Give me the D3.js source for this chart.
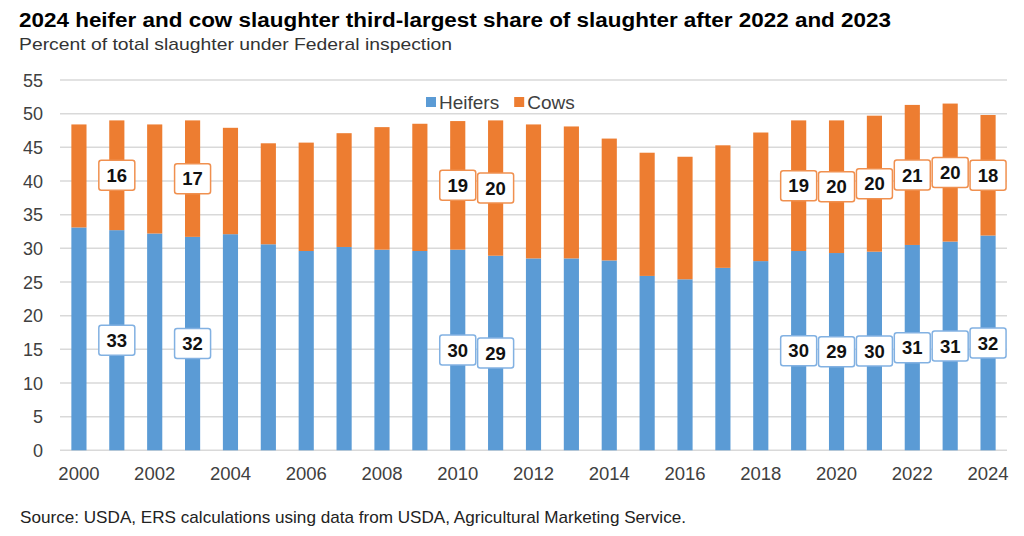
<!DOCTYPE html>
<html><head><meta charset="utf-8">
<script src="https://cdn.jsdelivr.net/npm/d3@7"></script>
<style>body{margin:0;background:#fff}svg{display:block}</style>
</head><body>
<svg id="c" width="1024" height="536"></svg>
<script>
const years = d3.range(2000, 2025);
const heifers = [33.1,32.7,32.2,31.7,32.1,30.6,29.6,30.2,29.8,29.6,29.8,28.9,28.5,28.5,28.2,25.9,25.4,27.1,28.1,29.6,29.3,29.5,30.5,31.0,31.9];
const cows = [15.3,16.3,16.2,17.3,15.8,15.0,16.1,16.9,18.2,18.9,19.1,20.1,19.9,19.6,18.1,18.3,18.2,18.2,19.1,19.4,19.7,20.2,20.8,20.5,17.9];
const labelYears = [2001,2003,2010,2011,2019,2020,2021,2022,2023,2024];
const heiferLabels = [33,32,30,29,30,29,30,31,31,32];
const cowLabels = [16,17,19,20,19,20,20,21,20,18];
const yTicks = d3.range(0, 56, 5);
const xTickYears = years.filter(y => y % 2 === 0);
const seriesNames = ["Heifers", "Cows"];
const colors = ["#5B9BD5", "#ED7D31"];

const svg = d3.select("#c");
const F = "Liberation Sans, Arial, sans-serif";
const pLeft = 60, pRight = 1007, pTop = 80, pBottom = 450.3;

const x = d3.scaleBand().domain(years).range([pLeft, pRight]).paddingInner(0.6).paddingOuter(0.3);
const y = d3.scaleLinear().domain([0, 55]).range([pBottom, pTop]);

svg.append("text").attr("x", 19).attr("y", 27.3).attr("font-family", F).attr("font-weight", "bold")
  .attr("font-size", 19.5).attr("fill", "#000").attr("textLength", 872).attr("lengthAdjust", "spacingAndGlyphs")
  .text("2024 heifer and cow slaughter third-largest share of slaughter after 2022 and 2023");
svg.append("text").attr("x", 19).attr("y", 50).attr("font-family", F)
  .attr("font-size", 17).attr("fill", "#333").attr("textLength", 433).attr("lengthAdjust", "spacingAndGlyphs")
  .text("Percent of total slaughter under Federal inspection");

// grid
svg.append("g").selectAll("line").data(yTicks).join("line")
  .attr("x1", pLeft).attr("x2", pRight).attr("y1", d => y(d)).attr("y2", d => y(d))
  .attr("stroke", "#d9d9d9").attr("stroke-width", 1.5);

// y axis labels
const yAxis = d3.axisLeft(y).tickValues(yTicks).tickSize(0).tickPadding(0);
const ga = svg.append("g").attr("transform", `translate(43,0)`).call(yAxis);
ga.select(".domain").remove();
ga.selectAll("text").attr("font-family", F).attr("font-size", 18).attr("fill", "#404040").attr("dy", "0.35em");

// x axis labels
const xAxis = d3.axisBottom(x).tickValues(xTickYears).tickSize(0).tickPadding(0);
const gx = svg.append("g").attr("transform", `translate(0,${pBottom})`).call(xAxis);
gx.select(".domain").remove();
gx.selectAll("text").attr("font-family", F).attr("font-size", 18.5).attr("fill", "#404040").attr("y", 30).attr("dy", "0");

// stacked bars
const rows = years.map((yr, i) => ({year: yr, Heifers: heifers[i], Cows: cows[i]}));
const stack = d3.stack().keys(seriesNames)(rows);
svg.append("g").selectAll("g").data(stack).join("g").attr("fill", (d, i) => colors[i])
  .selectAll("rect").data(d => d).join("rect")
  .attr("x", d => x(d.data.year)).attr("width", x.bandwidth())
  .attr("y", d => y(d[1])).attr("height", d => y(d[0]) - y(d[1]));

// labels
function drawLabels(seriesIdx, labels, color) {
  const s = stack[seriesIdx];
  const g = svg.append("g");
  labelYears.forEach((yr, i) => {
    const d = s[years.indexOf(yr)];
    const cx = x(yr) + x.bandwidth() / 2;
    const cy = y((d[0] + d[1]) / 2);
    g.append("rect").attr("x", cx - 18).attr("y", cy - 15).attr("width", 36).attr("height", 30)
      .attr("rx", 2.5).attr("fill", "#fff").attr("stroke", color).attr("stroke-width", 1.5);
    g.append("text").attr("x", cx).attr("y", cy).attr("dy", "0.36em").attr("text-anchor", "middle")
      .attr("font-family", F).attr("font-weight", "bold").attr("font-size", 18.5).attr("fill", "#111")
      .text(labels[i]);
  });
}
drawLabels(0, heiferLabels, "#82b1e2");
drawLabels(1, cowLabels, "#f0904f");

// legend
const lg = svg.append("g").attr("transform", "translate(426,102)");
let lx = 0;
seriesNames.forEach((n, i) => {
  lg.append("rect").attr("x", lx).attr("y", -5).attr("width", 10).attr("height", 10).attr("fill", colors[i]);
  const t = lg.append("text").attr("x", lx + 13).attr("y", 0).attr("dy", "0.36em").attr("font-family", F)
    .attr("font-size", 19).attr("fill", "#404040").text(n);
  lx += 13 + t.node().getComputedTextLength() + 15;
});

// source
svg.append("text").attr("x", 20).attr("y", 523).attr("font-family", F)
  .attr("font-size", 17).attr("fill", "#222").attr("textLength", 666).attr("lengthAdjust", "spacingAndGlyphs")
  .text("Source: USDA, ERS calculations using data from USDA, Agricultural Marketing Service.");
</script>
</body></html>
